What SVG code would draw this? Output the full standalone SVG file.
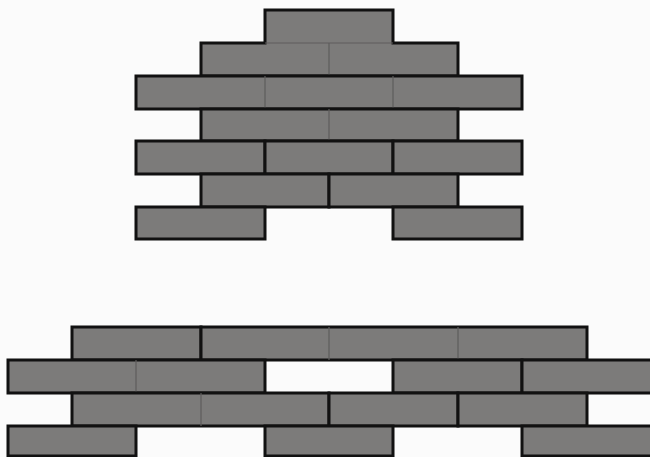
<svg xmlns="http://www.w3.org/2000/svg" width="650" height="457" viewBox="0 0 650 457">
<style>
.b{fill:#7c7b7a;stroke:#111;stroke-width:3;stroke-linejoin:miter}
.j{stroke:#5e5d5c;stroke-width:1.2;fill:none}
</style>
<rect width="650" height="457" fill="#fbfbfb"/>
<g id="arch">
<path class="b" d="M265,10 H393 V43 H458 V76 H201 V43 H265 Z"/>
<path class="j" d="M265,43 H393 M329,43 V76"/>
<rect class="b" x="136" y="76" width="386" height="33"/>
<path class="j" d="M265,76 V109 M393,76 V109"/>
<rect class="b" x="201" y="109" width="257" height="32"/>
<path class="j" d="M329,109 V141"/>
<rect class="b" x="136" y="141" width="129" height="33"/>
<rect class="b" x="265" y="141" width="128" height="33"/>
<rect class="b" x="393" y="141" width="129" height="33"/>
<rect class="b" x="201" y="174" width="128" height="33"/>
<rect class="b" x="329" y="174" width="129" height="33"/>
<rect class="b" x="136" y="207" width="129" height="32"/>
<rect class="b" x="393" y="207" width="129" height="32"/>
</g>
<g id="wall">
<rect class="b" x="72" y="327" width="129" height="33"/>
<rect class="b" x="201" y="327" width="386" height="33"/>
<path class="j" d="M329,327 V360 M458,327 V360"/>
<rect class="b" x="8" y="360" width="257" height="33"/>
<path class="j" d="M136,360 V393"/>
<rect class="b" x="393" y="360" width="129" height="33"/>
<rect class="b" x="522" y="360" width="132" height="33"/>
<rect class="b" x="72" y="393" width="257" height="33"/>
<path class="j" d="M201,393 V426"/>
<rect class="b" x="329" y="393" width="129" height="33"/>
<rect class="b" x="458" y="393" width="129" height="33"/>
<rect class="b" x="8" y="426" width="128" height="30"/>
<rect class="b" x="265" y="426" width="128" height="30"/>
<rect class="b" x="522" y="426" width="132" height="30"/>
</g>
</svg>
